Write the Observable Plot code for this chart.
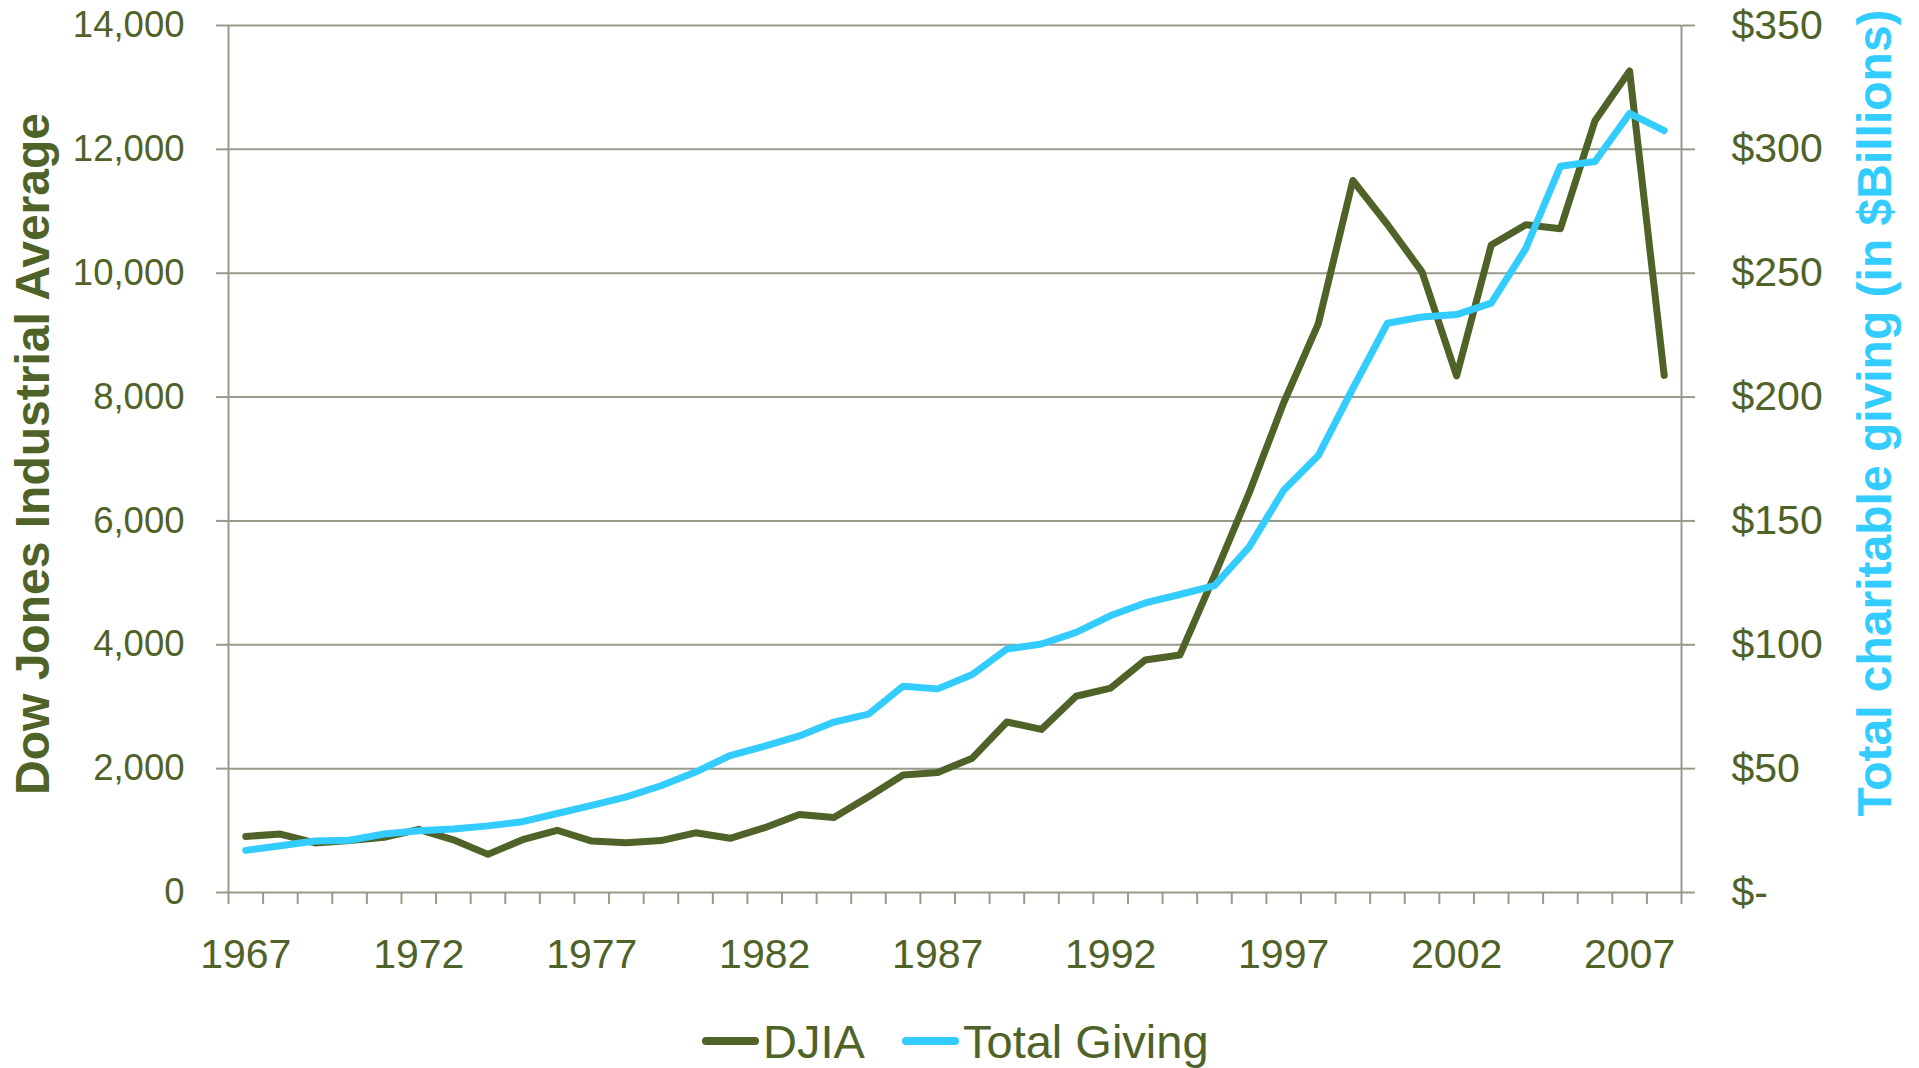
<!DOCTYPE html>
<html>
<head>
<meta charset="utf-8">
<script src="https://cdn.jsdelivr.net/npm/d3@7"></script>
<script src="https://cdn.jsdelivr.net/npm/@observablehq/plot@0.6"></script>
<style>
  html, body { margin: 0; padding: 0; background: #fff; overflow: hidden; }
  #chart svg { display: block; }
  #legend { position: relative; width: 1919px; height: 68px; overflow: hidden; font-family: Arial, "Liberation Sans", sans-serif; color: #4f6228; }
  #legend .sw { position: absolute; height: 8px; border-radius: 4px; }
  #legend .lb { position: absolute; font-size: 47px; line-height: 47px; white-space: nowrap; }
</style>
</head>
<body>
<div id="chart"></div>
<div id="legend"></div>
<script>
// ---- data ----
const years = [1967,1968,1969,1970,1971,1972,1973,1974,1975,1976,1977,1978,1979,1980,1981,1982,1983,1984,1985,1986,1987,1988,1989,1990,1991,1992,1993,1994,1995,1996,1997,1998,1999,2000,2001,2002,2003,2004,2005,2006,2007,2008];
const djia = [905,944,800,839,891,1020,851,616,852,1005,831,805,839,964,875,1047,1259,1212,1547,1896,1939,2169,2753,2634,3169,3301,3754,3834,5117,6448,7908,9181,11497,10787,10022,8342,10454,10783,10718,12463,13265,8350];
const giving = [17.0,18.9,20.8,21.1,23.6,24.9,25.6,26.9,28.6,31.9,35.2,38.6,43.1,48.6,55.3,59.1,63.2,68.8,72.0,83.3,82.2,88.0,98.3,100.3,105.0,111.8,116.9,120.3,123.9,139.4,162.4,176.4,203.5,229.8,232.3,233.3,237.9,260.0,293.2,295.1,314.5,307.6];
const leftTicks = [0,2000,4000,6000,8000,10000,12000,14000];
const rightTickLabels = ["$-","$50","$100","$150","$200","$250","$300","$350"];
const xLabelYears = [1967,1972,1977,1982,1987,1992,1997,2002,2007];
const seriesNames = ["DJIA","Total Giving"];

// ---- styles ----
const olive = "#4f6228";
const blue = "#33ccff";
const grid = "#979b89";
const ratio = 14000 / 350; // secondary axis mapping

const data = years.map((y, i) => ({year: y, djia: djia[i], giving: giving[i]}));
const bandEdges = d3.range(years.length + 1).map(i => years[0] - 0.5 + i);

const W = 1919, H = 1000;
const chart = Plot.plot({
  width: W,
  height: H,
  marginLeft: 228,
  marginRight: 238,
  marginTop: 25,
  marginBottom: 108,
  style: {fontFamily: "Arial, 'Liberation Sans', sans-serif", background: "#fff", color: olive, overflow: "visible"},
  x: {type: "linear", domain: [years[0] - 0.5, years[years.length - 1] + 0.5]},
  y: {domain: [0, 14000]},
  marks: [
    Plot.ruleY(leftTicks, {stroke: grid, strokeWidth: 2}),
    Plot.ruleX([bandEdges[0], bandEdges[bandEdges.length - 1]], {y1: 0, y2: 14000, stroke: grid, strokeWidth: 2}),
    Plot.axisX({ticks: bandEdges, tickSize: 12, tickFormat: () => "", stroke: grid, strokeWidth: 2, label: null}),
    Plot.axisX({ticks: xLabelYears, tickSize: 0, tickPadding: 46, tickFormat: d => String(d), fontSize: 41, fill: olive, label: null}),
    Plot.axisY({anchor: "left", ticks: leftTicks, tickSize: 12, tickPadding: 32, tickFormat: d3.format(","), fontSize: 36.5, stroke: grid, strokeWidth: 2, fill: olive, label: null}),
    Plot.axisY({anchor: "right", ticks: leftTicks, tickSize: 13, tickPadding: 37, tickFormat: (d, i) => rightTickLabels[leftTicks.indexOf(d)], fontSize: 41, stroke: grid, strokeWidth: 2, fill: olive, label: null}),
    Plot.line(data, {x: "year", y: "djia", stroke: olive, strokeWidth: 7, strokeLinejoin: "round", strokeLinecap: "round"}),
    Plot.line(data, {x: "year", y: d => d.giving * ratio, stroke: blue, strokeWidth: 7, strokeLinejoin: "round", strokeLinecap: "round"}),
    Plot.text(["Dow Jones Industrial Average"], {text: d => d, frameAnchor: "left", dx: -195, dy: -5, rotate: -90, textAnchor: "middle", lineAnchor: "middle", fontSize: 48, fontWeight: "bold", fill: olive}),
    Plot.text(["Total charitable giving (in $Billions)"], {text: d => d, frameAnchor: "right", dx: 194, dy: -46, rotate: -90, textAnchor: "middle", lineAnchor: "middle", fontSize: 48, fontWeight: "bold", fill: blue})
  ]
});
document.getElementById("chart").appendChild(chart);

// ---- legend (HTML, below the SVG) ----
const legend = document.getElementById("legend");
const items = [
  {name: seriesNames[0], color: olive, sw: 702, lb: 763},
  {name: seriesNames[1], color: blue, sw: 902, lb: 963}
];
for (const it of items) {
  const s = document.createElement("div");
  s.className = "sw";
  s.style.left = it.sw + "px";
  s.style.top = "37px";
  s.style.width = "57px";
  s.style.background = it.color;
  legend.appendChild(s);
  const t = document.createElement("div");
  t.className = "lb";
  t.style.left = it.lb + "px";
  t.style.top = "18px";
  t.textContent = it.name;
  legend.appendChild(t);
}
</script>
</body>
</html>
